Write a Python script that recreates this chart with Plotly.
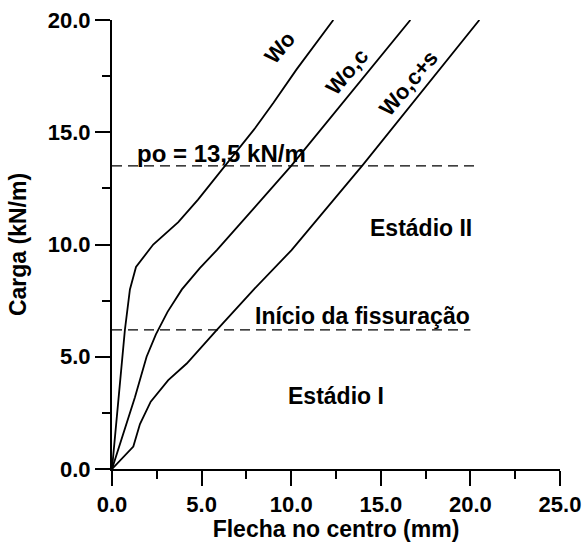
import plotly.graph_objects as go

# Data
wo_x = [0, 0.72, 1.0, 1.34, 2.3, 3.7, 4.8, 6.3, 8.0, 9.0, 10.3, 12.35]
wo_y = [0, 6.2, 8.0, 9.0, 10.0, 11.0, 12.0, 13.5, 15.2, 16.3, 17.8, 20.0]

woc_x = [0, 1.28, 1.93, 2.45, 3.1, 3.9, 4.9, 5.85, 10.0, 14.95, 16.65]
woc_y = [0, 3.2, 5.0, 6.0, 7.0, 8.0, 8.95, 9.75, 13.5, 18.3, 20.0]

wocs_x = [0, 1.19, 1.56, 2.16, 3.14, 4.17, 5.84, 7.88, 10.02, 14.0, 20.5]
wocs_y = [0, 1.0, 2.0, 3.0, 3.96, 4.7, 6.19, 7.97, 9.75, 13.55, 20.0]

po_x = [0, 20.5]
po_y = [13.5, 13.5]
fiss_x = [0, 20.0]
fiss_y = [6.2, 6.2]

curve_labels = ["Wo", "Wo,c", "Wo,c+s"]
curve_label_pos = [(9.37, 18.77), (13.13, 17.7), (16.53, 17.18)]

text_labels = ["po = 13,5 kN/m", "Estádio II", "Início da fissuração", "Estádio I"]
text_pos = [(6.1, 14.05), (17.26, 10.75), (13.97, 6.8), (12.52, 3.25)]
text_sizes = [24, 23, 23, 23]

FONT = "Liberation Sans, Arial, sans-serif"

fig = go.Figure()
for xs, ys in [(wo_x, wo_y), (woc_x, woc_y), (wocs_x, wocs_y)]:
    fig.add_trace(go.Scatter(x=xs, y=ys, mode="lines",
                             line=dict(color="black", width=1.8),
                             showlegend=False, hoverinfo="skip"))
for xs, ys in [(po_x, po_y), (fiss_x, fiss_y)]:
    fig.add_trace(go.Scatter(x=xs, y=ys, mode="lines",
                             line=dict(color="black", width=1.3, dash="10px,6px"),
                             showlegend=False, hoverinfo="skip"))

for t, (x, y) in zip(curve_labels, curve_label_pos):
    fig.add_annotation(x=x, y=y, text=t, showarrow=False, textangle=-50,
                       font=dict(family=FONT, size=22, color="black", weight="bold"),
                       xanchor="center", yanchor="middle")
for t, (x, y), s in zip(text_labels, text_pos, text_sizes):
    fig.add_annotation(x=x, y=y, text=t, showarrow=False,
                       font=dict(family=FONT, size=s, color="black", weight="bold"),
                       xanchor="center", yanchor="middle")

axis_common = dict(
    showline=True, linewidth=2, linecolor="black",
    ticks="outside", ticklen=15, tickwidth=2, tickcolor="black",
    dtick=5, tick0=0, tickformat=".1f",
    minor=dict(dtick=2.5, tick0=0, ticklen=8, tickwidth=2, ticks="outside",
               tickcolor="black", showgrid=False),
    showgrid=False, zeroline=False, automargin=False,
    tickfont=dict(family=FONT, size=22, color="black", weight="bold"),
)

fig.update_layout(
    width=583, height=542,
    margin=dict(l=112, r=23, t=20, b=73),
    plot_bgcolor="white", paper_bgcolor="white",
    xaxis=dict(range=[0, 25],
               title=dict(text="Flecha no centro (mm)", standoff=13,
                          font=dict(family=FONT, size=23, color="black", weight="bold")),
               **axis_common),
    yaxis=dict(range=[0, 20],
               title=dict(text="Carga (kN/m)", standoff=15,
                          font=dict(family=FONT, size=23, color="black", weight="bold")),
               **axis_common),
)

fig.write_html("out.html")
